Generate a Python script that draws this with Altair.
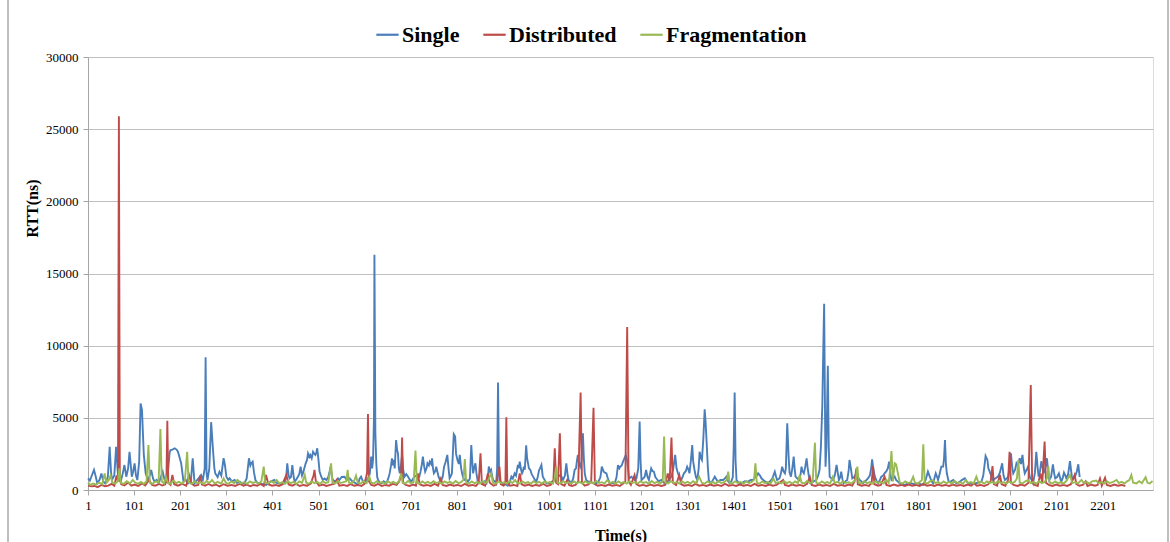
import altair as alt
import pandas as pd

SERIES = ["Single", "Distributed", "Fragmentation"]
COLORS = ["#4A7EBB", "#BE4B48", "#98B954"]
X_TICKS = [1, 101, 201, 301, 401, 501, 601, 701, 801, 901, 1001, 1101, 1201, 1301,
           1401, 1501, 1601, 1701, 1801, 1901, 2001, 2101, 2201]
Y_TICKS = [0, 5000, 10000, 15000, 20000, 25000, 30000]

SINGLE = [
    (1, 800), (5, 650), (8, 900), (14, 1400), (18, 900), (21, 460), (26, 700), (30, 1150), (34, 600),
    (38, 460), (44, 900), (48, 3000), (51, 1200), (53, 700), (58, 1000), (62, 3000), (65, 1500), (67, 700),
    (72, 600), (76, 1100), (80, 1730), (84, 920), (88, 1500), (91, 2650), (96, 920), (99, 1300), (102, 1850),
    (105, 1000), (108, 690), (112, 2000), (115, 6000), (118, 5550), (122, 2430), (126, 1150), (131, 690),
    (135, 1000), (138, 1390), (142, 800), (145, 580), (150, 700), (154, 460), (158, 800), (163, 1270),
    (167, 700), (171, 580), (175, 1500), (178, 2600), (180, 2770), (184, 2800), (189, 2890), (193, 2800),
    (196, 2650), (200, 2200), (203, 1850), (208, 580), (213, 700), (218, 460), (224, 600), (228, 2200),
    (232, 460), (238, 700), (243, 900), (246, 1040), (250, 700), (254, 1500), (256, 9200), (258, 1200),
    (260, 690), (264, 1500), (268, 4700), (272, 2770), (275, 1500), (277, 1150), (282, 900), (286, 1270),
    (290, 1000), (295, 2200), (298, 1700), (301, 920), (305, 700), (308, 810), (313, 600), (319, 690),
    (324, 500), (330, 580), (335, 450), (340, 460), (345, 800), (350, 2200), (353, 1700), (355, 1850),
    (358, 1960), (361, 1200), (364, 690), (368, 500), (373, 460), (380, 400), (387, 350), (392, 450),
    (398, 600), (405, 690), (409, 500), (413, 460), (420, 400), (427, 460), (431, 1000), (433, 1850),
    (436, 1000), (438, 810), (441, 900), (444, 1730), (447, 900), (449, 580), (452, 700), (456, 920),
    (459, 1100), (462, 1620), (465, 1000), (467, 1150), (470, 1500), (473, 1850), (476, 2100), (478, 2540),
    (481, 2300), (483, 2430), (486, 2200), (489, 2650), (492, 2500), (494, 2430), (496, 2600), (498, 2890),
    (501, 2000), (503, 1270), (507, 900), (510, 690), (514, 800), (518, 690), (522, 900), (525, 1300),
    (527, 1620), (530, 900), (532, 690), (536, 600), (539, 580), (543, 800), (546, 690), (551, 900),
    (557, 920), (562, 700), (568, 810), (574, 600), (580, 500), (586, 350), (590, 800), (593, 920),
    (597, 600), (601, 460), (606, 700), (610, 900), (612, 1150), (615, 2310), (617, 1500), (619, 2080),
    (621, 5000), (622, 16300), (624, 4000), (626, 1850), (628, 900), (630, 693), (634, 500), (637, 460),
    (642, 600), (648, 460), (652, 800), (655, 1150), (658, 1700), (660, 2200), (662, 1700), (664, 2080),
    (666, 1500), (669, 3460), (671, 2800), (673, 2540), (675, 1500), (677, 1150), (680, 1800), (682, 2430),
    (684, 1500), (687, 920), (691, 1100), (695, 920), (699, 700), (702, 580), (706, 800), (709, 920),
    (713, 1000), (716, 810), (719, 900), (722, 1270), (725, 1800), (727, 2310), (730, 1600), (732, 1270),
    (735, 1500), (737, 1850), (740, 1700), (742, 1960), (745, 1800), (747, 2195), (749, 1500), (751, 1155),
    (754, 1300), (756, 1617), (759, 1200), (761, 924), (764, 700), (767, 693), (770, 900), (773, 1617),
    (776, 1900), (780, 2430), (783, 1400), (785, 810), (788, 1000), (790, 1155), (792, 2500), (794, 3860),
    (797, 3700), (799, 2500), (802, 2080), (805, 1800), (807, 2430), (810, 1500), (812, 1155), (815, 800),
    (818, 693), (822, 700), (825, 580), (829, 800), (832, 3120), (834, 2000), (836, 1155), (838, 1500),
    (841, 1850), (843, 1200), (846, 580), (851, 500), (857, 462), (861, 600), (865, 462), (868, 900),
    (870, 1620), (873, 1270), (875, 1386), (877, 1000), (879, 693), (883, 600), (886, 462), (888, 1500),
    (890, 7440), (892, 1500), (893, 693), (897, 500), (901, 350), (906, 400), (911, 300), (915, 500),
    (919, 924), (922, 800), (926, 1155), (929, 1000), (933, 1730), (935, 1500), (937, 1960), (940, 1400),
    (942, 1155), (944, 1300), (946, 1617), (948, 1400), (951, 3100), (953, 2200), (955, 1850), (957, 1500),
    (960, 1386), (963, 1100), (966, 924), (970, 700), (973, 578), (976, 900), (979, 1386), (981, 1500),
    (984, 1730), (987, 924), (991, 700), (995, 462), (1002, 462), (1008, 600), (1013, 693), (1017, 800),
    (1020, 924), (1025, 1040), (1028, 900), (1031, 693), (1035, 1000), (1038, 1850), (1041, 1000),
    (1043, 693), (1046, 580), (1049, 462), (1053, 800), (1056, 1386), (1059, 1500), (1061, 2000),
    (1063, 2430), (1066, 1800), (1068, 1617), (1071, 2000), (1074, 3930), (1076, 2200), (1078, 1155),
    (1081, 693), (1085, 600), (1089, 578), (1095, 500), (1103, 462), (1108, 600), (1112, 900), (1115, 1617),
    (1119, 1270), (1122, 1200), (1125, 1155), (1128, 800), (1132, 462), (1137, 500), (1143, 462),
    (1147, 900), (1150, 1733), (1153, 1500), (1155, 1617), (1158, 1700), (1161, 1964), (1164, 2200),
    (1167, 2426), (1170, 2000), (1174, 800), (1179, 924), (1183, 800), (1186, 693), (1190, 800),
    (1194, 1500), (1197, 4740), (1199, 2000), (1201, 693), (1205, 800), (1208, 924), (1211, 1386),
    (1214, 900), (1217, 693), (1220, 1200), (1222, 1500), (1225, 1300), (1228, 1270), (1231, 900),
    (1233, 810), (1238, 600), (1244, 693), (1250, 500), (1255, 462), (1260, 700), (1266, 924), (1270, 1500),
    (1274, 2430), (1277, 1500), (1280, 1155), (1284, 800), (1287, 693), (1290, 900), (1293, 1155),
    (1297, 1300), (1300, 1617), (1303, 1400), (1305, 1155), (1308, 2000), (1311, 3120), (1313, 2000),
    (1316, 1386), (1319, 900), (1322, 693), (1325, 1500), (1327, 2650), (1330, 2200), (1332, 2079),
    (1335, 3500), (1338, 5590), (1340, 4700), (1342, 3460), (1345, 1500), (1347, 693), (1350, 500),
    (1352, 462), (1356, 700), (1360, 924), (1364, 700), (1367, 578), (1372, 700), (1378, 693), (1382, 800),
    (1385, 924), (1389, 600), (1392, 462), (1396, 600), (1399, 900), (1401, 3000), (1403, 6750),
    (1405, 2000), (1407, 693), (1412, 500), (1418, 462), (1425, 600), (1432, 578), (1438, 700), (1443, 693),
    (1448, 900), (1451, 1000), (1454, 1155), (1458, 1000), (1461, 810), (1465, 693), (1470, 578),
    (1475, 462), (1480, 600), (1485, 810), (1490, 1270), (1493, 900), (1495, 693), (1500, 800),
    (1503, 1100), (1506, 1617), (1509, 1300), (1512, 1155), (1514, 1500), (1517, 4620), (1520, 2310),
    (1522, 1200), (1525, 924), (1528, 1500), (1531, 2310), (1533, 1500), (1535, 924), (1539, 800),
    (1543, 693), (1546, 1100), (1548, 1617), (1550, 1300), (1553, 1155), (1556, 1600), (1559, 2195),
    (1561, 1600), (1564, 924), (1567, 600), (1569, 462), (1574, 600), (1580, 693), (1584, 1000),
    (1587, 1386), (1590, 3000), (1593, 5800), (1595, 9500), (1597, 12900), (1599, 5000), (1600, 1617),
    (1602, 3000), (1605, 8600), (1607, 3000), (1609, 924), (1613, 800), (1616, 693), (1620, 1000),
    (1624, 1733), (1627, 1100), (1629, 693), (1632, 900), (1634, 1270), (1637, 700), (1639, 462),
    (1643, 600), (1647, 693), (1650, 1300), (1652, 2079), (1655, 1500), (1658, 810), (1662, 900),
    (1667, 1155), (1670, 900), (1674, 693), (1678, 600), (1681, 462), (1686, 600), (1692, 810), (1696, 1000),
    (1699, 1500), (1701, 2120), (1704, 1400), (1707, 924), (1711, 600), (1714, 462), (1718, 700),
    (1721, 924), (1725, 1000), (1728, 1155), (1732, 1300), (1735, 1500), (1738, 1964), (1741, 1000),
    (1743, 693), (1747, 800), (1750, 924), (1753, 700), (1757, 578), (1761, 462), (1766, 400), (1772, 350),
    (1779, 450), (1786, 462), (1793, 400), (1801, 462), (1806, 400), (1812, 350), (1817, 700), (1822, 1270),
    (1826, 924), (1830, 600), (1833, 462), (1836, 800), (1839, 1155), (1842, 900), (1844, 693), (1848, 1200),
    (1851, 1617), (1855, 1617), (1857, 2200), (1859, 3460), (1861, 1800), (1863, 1155), (1867, 578),
    (1872, 600), (1877, 693), (1881, 550), (1884, 462), (1888, 500), (1891, 578), (1896, 700), (1902, 810),
    (1906, 600), (1909, 462), (1916, 450), (1924, 462), (1931, 500), (1938, 578), (1942, 1000), (1945, 1800),
    (1947, 2360), (1951, 2079), (1953, 1500), (1956, 1270), (1960, 900), (1963, 693), (1968, 800),
    (1974, 924), (1978, 1200), (1983, 1850), (1986, 1000), (1989, 693), (1993, 800), (1996, 924),
    (1999, 1500), (2002, 2540), (2005, 1500), (2007, 1155), (2011, 1400), (2014, 1850), (2017, 1700),
    (2021, 2200), (2024, 1800), (2027, 2430), (2030, 1500), (2032, 1155), (2036, 1400), (2039, 1617),
    (2043, 900), (2047, 693), (2050, 462), (2054, 1200), (2057, 2650), (2060, 1500), (2062, 924),
    (2065, 1300), (2068, 2000), (2071, 1500), (2073, 1155), (2077, 1600), (2080, 2200), (2083, 1200),
    (2085, 693), (2089, 900), (2093, 1780), (2096, 1100), (2098, 810), (2102, 900), (2106, 1155),
    (2109, 800), (2111, 578), (2114, 800), (2117, 1200), (2120, 1000), (2122, 810), (2126, 1100),
    (2130, 2000), (2133, 1200), (2135, 693), (2138, 800), (2141, 924), (2145, 1300), (2148, 1780),
    (2151, 900),
]

DISTRIBUTED = [
    (1, 300), (8, 250), (15, 280), (22, 200), (30, 350), (38, 260), (45, 300), (52, 420), (58, 300),
    (63, 1000), (66, 600), (68, 25900), (70, 800), (73, 400), (80, 320), (88, 520), (95, 300), (102, 380),
    (110, 280), (118, 450), (125, 320), (133, 700), (140, 350), (147, 300), (155, 420), (162, 310),
    (168, 380), (171, 600), (173, 4800), (175, 500), (180, 350), (184, 1040), (188, 400), (196, 300),
    (205, 420), (214, 300), (220, 1040), (225, 450), (232, 300), (240, 350), (244, 1000), (248, 380),
    (255, 300), (262, 420), (270, 300), (278, 380), (286, 250), (295, 400), (303, 300), (312, 350),
    (320, 280), (330, 420), (338, 300), (345, 380), (353, 260), (360, 350), (368, 300), (375, 420),
    (382, 280), (387, 1040), (392, 400), (400, 300), (408, 350), (415, 280), (422, 380), (431, 1040),
    (436, 380), (444, 300), (452, 420), (460, 280), (468, 350), (476, 300), (484, 450), (490, 1000),
    (492, 1390), (495, 600), (502, 300), (510, 380), (518, 280), (526, 350), (534, 420), (540, 700),
    (546, 300), (555, 350), (563, 280), (570, 400), (578, 300), (586, 350), (594, 280), (600, 420),
    (604, 900), (606, 1200), (608, 5270), (610, 600), (615, 350), (622, 300), (630, 420), (638, 280),
    (646, 350), (654, 300), (662, 420), (670, 350), (676, 600), (680, 1000), (682, 3630), (684, 500),
    (690, 350), (698, 280), (706, 380), (712, 300), (716, 1150), (720, 400), (728, 300), (736, 350),
    (744, 280), (752, 420), (760, 300), (766, 800), (770, 350), (778, 280), (786, 380), (794, 300),
    (802, 350), (810, 280), (818, 420), (826, 300), (834, 350), (842, 280), (848, 500), (852, 2540),
    (855, 400), (862, 300), (868, 1150), (872, 500), (880, 300), (886, 380), (893, 1620), (896, 400),
    (902, 300), (906, 600), (908, 5040), (910, 500), (916, 300), (924, 350), (932, 280), (937, 1150),
    (941, 400), (948, 300), (956, 380), (964, 280), (972, 350), (980, 300), (988, 420), (996, 280),
    (1004, 350), (1010, 600), (1013, 2890), (1016, 500), (1020, 400), (1024, 3930), (1027, 400),
    (1034, 300), (1040, 700), (1044, 350), (1050, 280), (1058, 350), (1064, 600), (1069, 6750),
    (1072, 500), (1078, 300), (1086, 380), (1092, 600), (1097, 5700), (1100, 400), (1106, 300),
    (1114, 350), (1122, 280), (1130, 380), (1138, 300), (1146, 350), (1154, 280), (1160, 420), (1166, 600),
    (1170, 11300), (1173, 600), (1178, 350), (1186, 1040), (1190, 400), (1196, 300), (1204, 350),
    (1212, 280), (1220, 380), (1228, 300), (1236, 350), (1244, 280), (1252, 350), (1258, 1150), (1262, 600),
    (1266, 3630), (1269, 500), (1276, 350), (1283, 1040), (1287, 400), (1294, 300), (1302, 350),
    (1310, 280), (1318, 420), (1326, 300), (1334, 350), (1342, 280), (1350, 380), (1358, 300), (1366, 350),
    (1374, 280), (1382, 420), (1390, 300), (1398, 350), (1406, 280), (1414, 380), (1422, 300), (1430, 350),
    (1438, 280), (1446, 420), (1454, 300), (1462, 350), (1470, 280), (1478, 380), (1486, 300), (1494, 350),
    (1508, 690), (1512, 350), (1520, 280), (1528, 380), (1536, 300), (1544, 350), (1552, 280), (1560, 420),
    (1566, 900), (1570, 350), (1578, 280), (1586, 380), (1594, 300), (1602, 350), (1610, 280), (1618, 420),
    (1626, 300), (1634, 350), (1642, 280), (1650, 380), (1658, 300), (1663, 600), (1667, 1500), (1670, 400),
    (1678, 300), (1686, 350), (1694, 280), (1700, 500), (1703, 1660), (1706, 400), (1714, 300), (1720, 350),
    (1728, 920), (1732, 350), (1740, 280), (1748, 380), (1756, 300), (1764, 350), (1772, 280), (1780, 380),
    (1788, 300), (1796, 350), (1804, 280), (1812, 420), (1820, 300), (1828, 350), (1836, 280), (1844, 380),
    (1852, 300), (1860, 350), (1868, 280), (1876, 380), (1884, 300), (1892, 350), (1900, 280), (1908, 380),
    (1916, 300), (1922, 460), (1928, 300), (1936, 350), (1944, 280), (1952, 380), (1958, 600), (1962, 1660),
    (1965, 400), (1972, 300), (1978, 1040), (1982, 400), (1990, 300), (1996, 700), (1999, 2650), (2002, 500),
    (2008, 350), (2016, 280), (2024, 380), (2032, 300), (2040, 500), (2045, 7280), (2048, 500), (2054, 350),
    (2060, 280), (2066, 1150), (2070, 500), (2075, 3350), (2078, 500), (2084, 350), (2092, 280), (2100, 380),
    (2108, 300), (2116, 350), (2124, 280), (2132, 400), (2140, 1040), (2144, 400), (2150, 300), (2158, 350),
    (2164, 600), (2168, 280), (2176, 380), (2184, 300), (2190, 350), (2195, 800), (2199, 300), (2206, 850),
    (2210, 350), (2218, 280), (2226, 380), (2234, 300), (2242, 350), (2250, 280),
]

FRAGMENTATION = [
    (1, 500), (6, 350), (12, 450), (18, 380), (25, 520), (32, 400), (37, 1150), (41, 500), (46, 700),
    (50, 1000), (54, 500), (60, 450), (66, 600), (69, 1500), (72, 500), (78, 420), (85, 610), (92, 450),
    (98, 700), (104, 500), (110, 440), (116, 560), (122, 420), (128, 620), (132, 3120), (135, 500),
    (141, 430), (148, 600), (154, 510), (158, 4230), (161, 600), (166, 450), (170, 900), (174, 500),
    (180, 420), (186, 650), (192, 480), (198, 560), (205, 450), (211, 630), (216, 2650), (219, 550),
    (225, 420), (232, 590), (238, 470), (245, 540), (252, 410), (258, 620), (264, 480), (270, 700),
    (276, 450), (282, 560), (290, 440), (295, 800), (300, 500), (306, 420), (312, 610), (318, 470),
    (325, 700), (332, 450), (340, 540), (346, 430), (352, 600), (358, 490), (365, 560), (371, 440),
    (377, 610), (382, 1620), (385, 500), (391, 450), (398, 620), (404, 480), (410, 700), (416, 450),
    (422, 540), (428, 430), (434, 610), (440, 480), (447, 560), (453, 420), (459, 600), (465, 490),
    (471, 1040), (474, 500), (480, 440), (486, 600), (492, 470), (498, 560), (504, 420), (510, 610),
    (516, 480), (522, 540), (528, 1850), (531, 500), (537, 450), (543, 620), (549, 480), (555, 540),
    (561, 600), (564, 1390), (567, 500), (573, 450), (579, 700), (582, 1000), (586, 500), (592, 440),
    (598, 610), (605, 470), (611, 920), (615, 500), (621, 450), (627, 600), (633, 490), (639, 550),
    (645, 430), (651, 610), (657, 480), (663, 560), (669, 440), (675, 600), (680, 1150), (683, 500),
    (689, 450), (695, 620), (701, 480), (707, 550), (711, 2730), (714, 500), (720, 440), (726, 600),
    (732, 470), (738, 560), (744, 450), (750, 610), (756, 480), (762, 540), (768, 430), (774, 600),
    (780, 490), (786, 560), (792, 450), (798, 620), (804, 480), (810, 550), (815, 700), (818, 2150),
    (821, 500), (827, 440), (833, 600), (839, 470), (845, 550), (851, 450), (857, 610), (863, 480),
    (869, 700), (875, 1150), (879, 500), (885, 440), (891, 600), (897, 480), (903, 540), (909, 450),
    (915, 620), (921, 480), (927, 690), (931, 500), (937, 450), (943, 600), (949, 470), (955, 550),
    (961, 430), (967, 610), (973, 480), (979, 560), (985, 450), (991, 600), (997, 490), (1003, 550),
    (1009, 440), (1013, 800), (1016, 1620), (1019, 500), (1025, 450), (1031, 610), (1037, 480),
    (1043, 540), (1049, 450), (1055, 600), (1061, 470), (1067, 560), (1073, 430), (1079, 610),
    (1085, 480), (1091, 550), (1097, 450), (1103, 620), (1109, 480), (1115, 540), (1121, 440), (1127, 690),
    (1133, 480), (1139, 560), (1145, 450), (1151, 600), (1157, 470), (1163, 550), (1169, 440), (1175, 610),
    (1181, 480), (1187, 540), (1193, 450), (1199, 600), (1205, 490), (1211, 550), (1217, 430), (1223, 620),
    (1229, 480), (1235, 560), (1241, 450), (1247, 600), (1250, 3700), (1253, 500), (1259, 450), (1265, 610),
    (1271, 480), (1277, 540), (1283, 440), (1289, 600), (1295, 480), (1301, 560), (1307, 450), (1313, 610),
    (1319, 480), (1326, 920), (1332, 500), (1338, 440), (1344, 600), (1350, 470), (1356, 550), (1362, 450),
    (1368, 620), (1374, 480), (1380, 540), (1386, 700), (1389, 1270), (1392, 500), (1398, 450),
    (1404, 600), (1410, 490), (1416, 550), (1422, 430), (1428, 610), (1434, 480), (1440, 560), (1445, 700),
    (1448, 1850), (1451, 500), (1457, 440), (1463, 600), (1469, 470), (1475, 550), (1481, 450), (1487, 800),
    (1492, 480), (1498, 540), (1504, 450), (1510, 610), (1516, 480), (1522, 560), (1528, 440), (1534, 600),
    (1540, 480), (1544, 1040), (1548, 500), (1554, 450), (1560, 620), (1566, 480), (1572, 550),
    (1577, 3280), (1580, 500), (1586, 440), (1592, 600), (1598, 470), (1604, 550), (1610, 450), (1616, 920),
    (1620, 480), (1626, 560), (1632, 440), (1638, 610), (1644, 480), (1650, 540), (1656, 450), (1662, 600),
    (1666, 800), (1669, 1620), (1672, 500), (1678, 450), (1684, 610), (1690, 480), (1696, 550),
    (1702, 440), (1708, 600), (1714, 490), (1720, 560), (1726, 450), (1732, 700), (1737, 500), (1740, 1400),
    (1743, 2700), (1746, 600), (1750, 1850), (1753, 1780), (1757, 1150), (1761, 500), (1767, 450),
    (1773, 600), (1779, 480), (1785, 540), (1790, 920), (1794, 500), (1800, 440), (1806, 600), (1809, 700),
    (1812, 3160), (1815, 500), (1821, 450), (1827, 610), (1833, 690), (1838, 480), (1844, 550), (1850, 440),
    (1856, 600), (1862, 470), (1868, 560), (1874, 450), (1880, 620), (1886, 480), (1892, 540), (1898, 430),
    (1904, 690), (1909, 480), (1915, 550), (1921, 450), (1927, 920), (1932, 480), (1938, 560), (1944, 440),
    (1950, 600), (1956, 490), (1962, 550), (1968, 450), (1974, 610), (1980, 480), (1986, 540), (1992, 440),
    (1998, 600), (2004, 480), (2010, 560), (2015, 800), (2018, 2080), (2021, 500), (2027, 450), (2033, 600),
    (2039, 690), (2045, 480), (2051, 550), (2057, 440), (2063, 610), (2069, 480), (2075, 560), (2080, 800),
    (2083, 1660), (2086, 500), (2092, 450), (2098, 600), (2104, 470), (2110, 550), (2116, 440),
    (2122, 620), (2130, 1040), (2135, 480), (2141, 540), (2147, 450), (2155, 700), (2160, 480),
    (2166, 560), (2172, 440), (2178, 600), (2187, 650), (2192, 480), (2198, 550), (2204, 450), (2210, 610),
    (2216, 480), (2222, 540), (2231, 700), (2236, 480), (2242, 560), (2248, 450), (2254, 600), (2259, 700),
    (2263, 1040), (2267, 500), (2274, 450), (2280, 610), (2286, 480), (2294, 880), (2298, 500),
    (2303, 450), (2309, 620),
]

FONT = "Liberation Serif"


def frame(name, pts):
    return pd.DataFrame({"t": [p[0] for p in pts], "v": [p[1] for p in pts], "series": name})


color = alt.Color(
    "series:N",
    scale=alt.Scale(domain=SERIES, range=COLORS),
    legend=alt.Legend(
        title=None, orient="none", direction="horizontal", legendX=287, legendY=-35,
        symbolType="stroke", symbolSize=500, symbolStrokeWidth=2.2,
        labelFont=FONT, labelFontSize=22, labelFontWeight="bold", labelColor="#000000",
        labelOffset=2, columnPadding=18, labelLimit=300,
    ),
)

x = alt.X(
    "t:Q",
    scale=alt.Scale(domain=[1, 2310], nice=False, zero=False),
    axis=alt.Axis(
        values=X_TICKS, format="d", title="Time(s)", grid=False,
        labelFont=FONT, labelFontSize=13, labelColor="#000000", labelPadding=4,
        titleFont=FONT, titleFontSize=16, titleFontWeight="bold", titleColor="#000000", titlePadding=15,
        domainColor="#a6a6a6", tickColor="#a6a6a6", tickSize=5, labelFlush=False, labelOverlap=False,
    ),
)
y = alt.Y(
    "v:Q",
    scale=alt.Scale(domain=[0, 30000], nice=False),
    axis=alt.Axis(
        values=Y_TICKS, format="d", title="RTT(ns)", grid=True, gridColor="#c0c0c0",
        labelFont=FONT, labelFontSize=13, labelColor="#000000", labelPadding=5,
        titleFont=FONT, titleFontSize=16, titleFontWeight="bold", titleColor="#000000", titlePadding=5,
        titleY=151,
        domainColor="#a6a6a6", tickColor="#a6a6a6", tickSize=5,
    ),
)

layers = []
for name, pts in zip(SERIES, [SINGLE, DISTRIBUTED, FRAGMENTATION]):
    layers.append(
        alt.Chart(frame(name, pts)).mark_line(strokeWidth=1.9).encode(x=x, y=y, color=color)
    )

border = alt.Chart(pd.DataFrame({"k": [0]})).mark_rule(color="#7f7f7f", strokeWidth=1).encode(
    x=alt.value(-80), y=alt.value(-57), y2=alt.value(485)
)
border2 = alt.Chart(pd.DataFrame({"k": [0]})).mark_rule(color="#7f7f7f", strokeWidth=1).encode(
    x=alt.value(1080), y=alt.value(-57), y2=alt.value(485)
)

chart = alt.layer(*layers, border, border2).properties(
    width=1065, height=433, autosize="none",
    padding={"left": 88, "top": 57, "right": 17, "bottom": 52},
).configure_view(stroke=None).configure(background="#ffffff")

chart.save("out.html", embed_options={"renderer": "svg", "actions": False})
